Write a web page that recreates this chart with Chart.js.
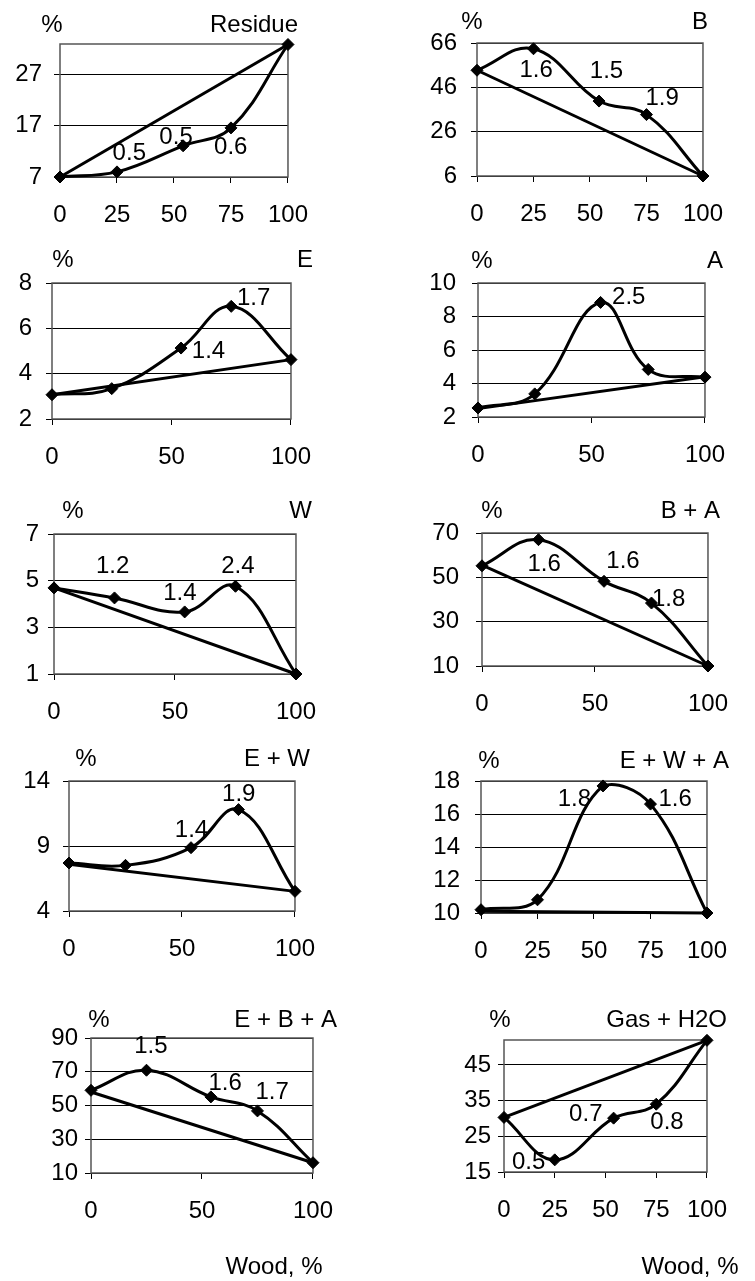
<!DOCTYPE html>
<html><head><meta charset="utf-8">
<script src="https://cdn.jsdelivr.net/npm/chart.js@4.4.1/dist/chart.umd.min.js"></script>
<style>
html,body{margin:0;padding:0;background:#fff;overflow:hidden;width:755px;height:1281px;position:relative;}
canvas{position:absolute;}
</style></head><body>
<script>
// ---------- DATA ----------
const woodX = [0, 25, 54, 75, 100];
const endX = [0, 100];
const xTicks25 = [0, 25, 50, 75, 100];
const xTicks50 = [0, 50, 100];

const residue = [7.0, 8.0, 13.1, 16.6, 32.9];
const residueLine = [7.0, 32.9];
const residueYTicks = [7, 17, 27];
const residueNotes = ['', '0.5', '0.5', '0.6', ''];

const bVals = [53.7, 63.4, 39.8, 33.7, 6];
const bLine = [53.7, 6];
const bYTicks = [6, 26, 46, 66];
const bNotes = ['', '1.6', '1.5', '1.9', ''];

const eVals = [3.07, 3.34, 5.13, 6.97, 4.62];
const eLine = [3.07, 4.62];
const eYTicks = [2, 4, 6, 8];
const eNotes = ['', '', '1.4', '1.7', ''];

const aVals = [2.54, 3.38, 8.84, 4.84, 4.38];
const aLine = [2.5, 4.4];
const aYTicks = [2, 4, 6, 8, 10];
const aNotes = ['', '', '2.5', '', ''];

const wVals = [4.69, 4.26, 3.66, 4.76, 1.0];
const wLine = [4.69, 1.0];
const wYTicks = [1, 3, 5, 7];
const wNotes = ['', '1.2', '1.4', '2.4', ''];

const baVals = [55.2, 67.0, 48.2, 38.4, 10];
const baLine = [55.5, 10];
const baYTicks = [10, 30, 50, 70];
const baNotes = ['', '1.6', '1.6', '1.8', ''];

const ewVals = [7.69, 7.51, 8.87, 11.8, 5.51];
const ewLine = [7.6, 5.51];
const ewYTicks = [4, 9, 14];
const ewNotes = ['', '', '1.4', '1.9', ''];

const ewaVals = [10.2, 10.8, 17.7, 16.6, 10.0];
const ewaLine = [10.1, 10.0];
const ewaYTicks = [10, 12, 14, 16, 18];
const ewaNotes = ['', '', '1.8', '1.6', ''];

const ebaVals = [59.0, 70.9, 55.1, 46.8, 16.1];
const ebaLine = [58, 16.1];
const ebaYTicks = [10, 30, 50, 70, 90];
const ebaNotes = ['', '1.5', '1.6', '1.7', ''];

const gasVals = [30.3, 18.4, 30.1, 34.0, 51.9];
const gasLine = [30.3, 51.9];
const gasYTicks = [15, 25, 35, 45];
const gasNotes = ['', '0.5', '0.7', '0.8', ''];

const yMax = {residue: 33, b: 66, e: 8, a: 10, w: 7, ba: 70, ew: 14, ewa: 18, eba: 90, gas: 52};
const xTitle = 'Wood, %';
const yUnit = '%';

// ---------- LAYOUT (positions / styles) ----------
const FONT = {family: "'Liberation Sans', Arial, Helvetica, sans-serif", size: 24};
const LEFTW = 52, TOPM = 40, RIGHTM = 16;

const panels = [
  {name:'Residue', vals:residue, line:residueLine, yt:residueYTicks, max:yMax.residue, xt:xTicks25, notes:residueNotes,
   notePos:[null,[30.4,11.7],[50.9,14.8],[74.9,12.7],null], rect:[60,44,310,177], pct:[52,25], nameR:[298,25], ygap:18},
  {name:'B', vals:bVals, line:bLine, yt:bYTicks, max:yMax.b, xt:xTicks25, notes:bNotes,
   notePos:[null,[26.2,53.7],[57.3,53.4],[81.9,40.9],null], rect:[477,43,725,176], pct:[472,22], nameR:[708,22], ygap:20},
  {name:'E', vals:eVals, line:eLine, yt:eYTicks, max:yMax.e, xt:xTicks50, notes:eNotes,
   notePos:[null,null,[65.5,4.99],[84.4,7.34],null], rect:[52,283,313,419], pct:[63,260], nameR:[313,260], ygap:20},
  {name:'A', vals:aVals, line:aLine, yt:aYTicks, max:yMax.a, xt:xTicks50, notes:aNotes,
   notePos:[null,null,[66.4,9.14],null,null], rect:[478,283,727,417], pct:[482,261], nameR:[723,261], ygap:22},
  {name:'W', vals:wVals, line:wLine, yt:wYTicks, max:yMax.w, xt:xTicks50, notes:wNotes,
   notePos:[null,[24.2,5.61],[52.0,4.47],[76.0,5.61],null], rect:[54,534,318,674], pct:[73,511], nameR:[312,511], ygap:15},
  {name:'B + A', vals:baVals, line:baLine, yt:baYTicks, max:yMax.ba, xt:xTicks50, notes:baNotes,
   notePos:[null,[27.5,55.7],[62.4,57.2],[82.6,39.9],null], rect:[482,533,730,666], pct:[492,511], nameR:[720,511], ygap:23},
  {name:'E + W', vals:ewVals, line:ewLine, yt:ewYTicks, max:yMax.ew, xt:xTicks50, notes:ewNotes,
   notePos:[null,null,[54.2,10.2],[75.1,12.97],null], rect:[69,781,317,911], pct:[86,759], nameR:[310,759], ygap:19},
  {name:'E + W + A', vals:ewaVals, line:ewaLine, yt:ewaYTicks, max:yMax.ewa, xt:xTicks25, notes:ewaNotes,
   notePos:[null,null,[41.3,16.9],[85.9,16.9],null], rect:[481,781,729,913], pct:[489,761], nameR:[729,761], ygap:21},
  {name:'E + B + A', vals:ebaVals, line:ebaLine, yt:ebaYTicks, max:yMax.eba, xt:xTicks50, notes:ebaNotes,
   notePos:[null,[27.0,85.1],[60.4,63.0],[81.6,58.0],null], rect:[91,1038,335,1173], pct:[99,1020], nameR:[337,1020], ygap:13, wood:[274,1267]},
  {name:'Gas + H2O', vals:gasVals, line:gasLine, yt:gasYTicks, max:yMax.gas, xt:xTicks25, notes:gasNotes,
   notePos:[null,[12.1,17.8],[40.3,31.2],[80.3,28.9],null], rect:[504,1040,729,1172], pct:[500,1020], nameR:[727,1020], ygap:13, wood:[690,1267]}
];

const panelPlugin = {
  id: 'panelText',
  beforeDatasetsDraw(chart) {
    const ca = chart.chartArea, ctx = chart.ctx;
    ctx.save();
    ctx.strokeStyle = '#555';
    ctx.lineWidth = 1.5;
    ctx.strokeRect(ca.left, ca.top, ca.right - ca.left, ca.bottom - ca.top);
    ctx.restore();
  },
  afterDraw(chart, args, opts) {
    const ctx = chart.ctx;
    ctx.save();
    ctx.fillStyle = '#000';
    ctx.font = FONT.size + 'px ' + FONT.family;
    ctx.textBaseline = 'middle';
    opts.texts.forEach(t => {
      ctx.textAlign = t.align;
      ctx.fillText(t.text, t.x - opts.ox, t.y - opts.oy);
    });
    const xs = chart.scales.x, ys = chart.scales.y;
    opts.notes.forEach((n, i) => {
      if (!n) return;
      const p = opts.notePos[i];
      ctx.textAlign = 'center';
      ctx.fillText(n, xs.getPixelForValue(p[0]), ys.getPixelForValue(p[1]));
    });
    ctx.restore();
  }
};

panels.forEach(p => {
  const [L, T, R, B] = p.rect;
  const bottomH = p.wood ? 108 : 60;
  const cv = document.createElement('canvas');
  const ox = L - LEFTW, oy = T - TOPM;
  const W = (R - L) + LEFTW + RIGHTM, H = (B - T) + TOPM + bottomH;
  cv.width = W; cv.height = H;
  cv.style.left = ox + 'px'; cv.style.top = oy + 'px';
  cv.style.width = W + 'px'; cv.style.height = H + 'px';
  document.body.appendChild(cv);

  const texts = [
    {text: yUnit, x: p.pct[0], y: p.pct[1], align: 'center'},
    {text: p.name, x: p.nameR[0], y: p.nameR[1], align: 'right'}
  ];
  if (p.wood) texts.push({text: xTitle, x: p.wood[0], y: p.wood[1], align: 'center'});

  new Chart(cv, {
    type: 'scatter',
    data: {datasets: [
      {data: woodX.map((x, i) => ({x: x, y: p.vals[i]})), showLine: true, tension: 0.4,
       borderColor: '#000', borderWidth: 3, pointStyle: 'rectRot', pointRadius: 6, pointHoverRadius: 6,
       pointBackgroundColor: '#000', pointBorderColor: '#000', pointBorderWidth: 1, clip: false},
      {data: endX.map((x, i) => ({x: x, y: p.line[i]})), showLine: true, tension: 0,
       borderColor: '#000', borderWidth: 3, pointRadius: 0, pointHoverRadius: 0, clip: false}
    ]},
    options: {
      responsive: false, animation: false, devicePixelRatio: 1,
      layout: {padding: {top: TOPM, right: RIGHTM, left: 0, bottom: 0}},
      plugins: {legend: {display: false}, tooltip: {enabled: false},
        panelText: {texts: texts, notes: p.notes, notePos: p.notePos, ox: ox, oy: oy}},
      scales: {
        x: {type: 'linear', min: 0, max: 100,
          afterBuildTicks: s => { s.ticks = p.xt.map(v => ({value: v})); },
          afterFit: s => { s.height = bottomH; },
          grid: {drawOnChartArea: false, drawTicks: true, tickLength: 6, color: '#000', lineWidth: 1},
          border: {display: false},
          ticks: {font: FONT, color: '#000', padding: 18, maxRotation: 0, autoSkip: false}},
        y: {type: 'linear', min: p.yt[0], max: p.max,
          afterBuildTicks: s => { s.ticks = p.yt.map(v => ({value: v})); },
          afterFit: s => { s.width = LEFTW; },
          grid: {color: '#000', lineWidth: 1, tickLength: 6},
          border: {display: false},
          ticks: {font: FONT, color: '#000', padding: p.ygap - 6, autoSkip: false}}
      }
    },
    plugins: [panelPlugin]
  });
});
</script>
</body></html>
